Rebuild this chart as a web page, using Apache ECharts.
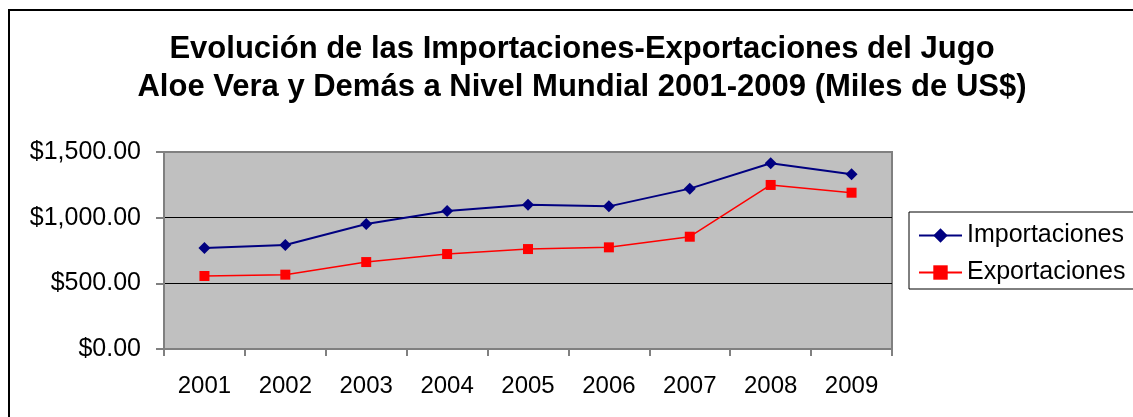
<!DOCTYPE html>
<html>
<head>
<meta charset="utf-8">
<script src="https://cdn.jsdelivr.net/npm/echarts@6/dist/echarts.min.js"></script>
<style>
  html, body { margin: 0; padding: 0; background: #fff; }
  #chart { width: 1133px; height: 417px; }
</style>
</head>
<body>
<div id="chart"></div>
<script>
  const years = ["2001", "2002", "2003", "2004", "2005", "2006", "2007", "2008", "2009"];
  const importaciones = [769, 792, 952, 1051, 1099, 1086, 1221, 1414, 1330];
  const exportaciones = [556, 566, 662, 723, 761, 774, 855, 1249, 1190];
  const titleLines = [
    "Evolución de las Importaciones-Exportaciones del Jugo",
    "Aloe Vera y Demás a Nivel Mundial 2001-2009 (Miles de US$)",
  ];

  const font = "Liberation Sans, Arial, sans-serif";

  function money(v) {
    return "$" + v.toLocaleString("en-US", { minimumFractionDigits: 2, maximumFractionDigits: 2 });
  }

  const myChart = echarts.init(document.getElementById("chart"));
  const option = {
    animation: false,
    backgroundColor: "#fff",
    textStyle: { fontFamily: font },
    title: {
      text: titleLines.join("\n"),
      left: 577,
      top: 25,
      textAlign: "center",
      textStyle: {
        fontFamily: font,
        fontWeight: "bold",
        fontSize: 31,
        lineHeight: 38,
        color: "#000",
      },
    },
    graphic: [
      {
        // outer frame of the chart, cut off by the picture on right and bottom
        type: "rect",
        shape: { x: 9, y: 10, width: 1200, height: 500 },
        style: { fill: null, stroke: "#000", lineWidth: 2 },
        silent: true,
      },
    ],
    legend: {
      orient: "vertical",
      left: 909,
      top: 212,
      padding: [11, 30, 4, 9],
      itemWidth: 43,
      itemHeight: 18,
      itemGap: 12,
      borderColor: "#000",
      borderWidth: 1,
      textStyle: { fontFamily: font, fontSize: 25, color: "#000" },
      data: ["Importaciones", "Exportaciones"],
    },
    grid: {
      left: 164,
      top: 152,
      width: 728,
      height: 197,
      show: true,
      backgroundColor: "#c0c0c0",
      borderColor: "#808080",
      borderWidth: 2,
    },
    xAxis: {
      type: "category",
      data: years,
      boundaryGap: true,
      axisLine: { lineStyle: { color: "#808080", width: 2 } },
      axisTick: { show: true, length: 7, lineStyle: { color: "#808080", width: 2 } },
      axisLabel: { color: "#000", fontSize: 24, margin: 25, fontFamily: font },
      splitLine: { show: false },
    },
    yAxis: {
      type: "value",
      min: 0,
      max: 1500,
      interval: 500,
      axisLine: { show: true, lineStyle: { color: "#808080", width: 2 } },
      axisTick: { show: true, length: 8, lineStyle: { color: "#808080", width: 2 } },
      axisLabel: {
        color: "#000",
        fontSize: 25,
        margin: 23,
        fontFamily: font,
        formatter: money,
      },
      splitLine: {
        show: true,
        lineStyle: { color: ["#808080", "#000", "#000", "#808080"], width: 1 },
      },
    },
    series: [
      {
        name: "Importaciones",
        type: "line",
        data: importaciones,
        symbol: "diamond",
        symbolSize: 12,
        color: "#000080",
        lineStyle: { color: "#000080", width: 2 },
        itemStyle: { color: "#000080" },
      },
      {
        name: "Exportaciones",
        type: "line",
        data: exportaciones,
        symbol: "rect",
        symbolSize: 10,
        color: "#ff0000",
        lineStyle: { color: "#ff0000", width: 1.5 },
        itemStyle: { color: "#ff0000" },
      },
    ],
  };
  myChart.setOption(option);
</script>
</body>
</html>
